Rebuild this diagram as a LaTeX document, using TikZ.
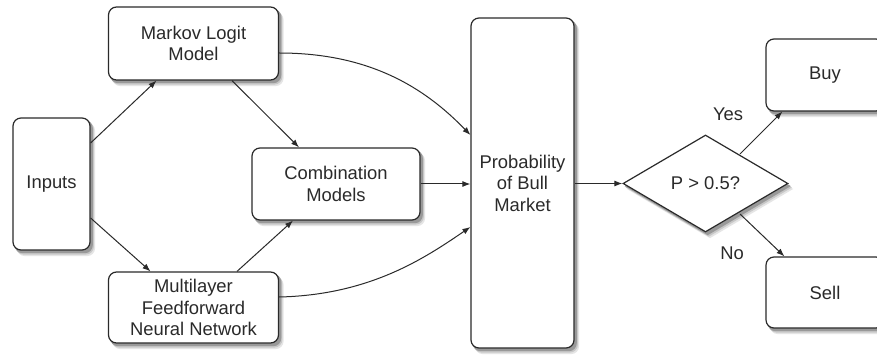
\documentclass[tikz,border=0pt]{standalone}
\usepackage{fontspec}
\setmainfont{Liberation Sans}
\usetikzlibrary{shapes.geometric,arrows.meta,calc}
\definecolor{ink}{HTML}{2A2A2A}
\pgfdeclarelayer{back}
\pgfsetlayers{back,main}
\begin{document}
\begin{tikzpicture}[x=1pt,y=-1pt,
  every node/.style={font=\fontsize{18.4}{21.5}\selectfont, text=ink, align=center},
  box/.style={draw=ink, line width=1.2pt, rounded corners=8pt, fill=white, inner sep=0pt},
  dec/.style={diamond, draw=ink, line width=1.2pt, fill=white, inner sep=0pt, shape aspect=1.7},
  conn/.style={draw=ink, line width=1pt, -{Latex[length=8pt,width=6pt]}},
  lbl/.style={inner sep=0pt}]
\useasboundingbox (0,0) rectangle (877,355);
\clip (0,0) rectangle (877,355);

\node[box, minimum width=77, minimum height=132] (in) at (51.5,184) {Inputs};
\node[box, minimum width=170, minimum height=73] (mk) at (193.5,43.5) {Markov Logit\\Model};
\node[box, minimum width=170, minimum height=71] (ml) at (193.5,307.5) {Multilayer\\Feedforward\\Neural Network};
\node[box, minimum width=168, minimum height=72] (cb) at (336,184) {Combination\\Models};
\node[box, minimum width=103, minimum height=330] (pb) at (522.5,183) {Probability\\of Bull\\Market};
\node[dec, minimum width=165, minimum height=97] (dm) at (705.5,183.5) {P > 0.5?};
\node[box, minimum width=118, minimum height=72] (buy) at (825,75) {Buy};
\node[box, minimum width=118, minimum height=71] (sell) at (825,292.5) {Sell};

\node[lbl] (yes) at (728,114) {Yes};
\node[lbl] (no) at (732,253) {No};

\begin{pgfonlayer}{back}
  \fill[white] (0,0) rectangle (877,355);
  \foreach \dx/\dy/\shade in {4.5/5.5/10, 3.3/4/22, 2.2/2.6/40}{
    \foreach \n in {in,mk,ml,cb,pb,buy,sell}{
      \fill[black!\shade, rounded corners=8pt]
        ($(\n.north west)+(\dx,\dy)$) rectangle ($(\n.south east)+(\dx,\dy)$);
    }
    \fill[black!\shade] ($(dm.north)+(\dx,\dy)$) -- ($(dm.east)+(\dx,\dy)$)
      -- ($(dm.south)+(\dx,\dy)$) -- ($(dm.west)+(\dx,\dy)$) -- cycle;
  }
\end{pgfonlayer}

\draw[conn] ($(in.east)+(0,-41)$) -- ($(mk.south)+(-37,0)$);
\draw[conn] ($(in.east)+(0,34)$) -- ($(ml.north)+(-43,0)$);
\draw[conn] ($(mk.south)+(38.5,0)$) -- ($(cb.north)+(-37,0)$);
\draw[conn] ($(ml.north)+(43.5,0)$) -- ($(cb.south)+(-43,0)$);
\draw[conn] ($(mk.east)+(0,9.5)$) .. controls (370,53) and (425,88) .. ($(pb.west)+(0,-48)$);
\draw[conn] ($(ml.east)+(0,-10.5)$) .. controls (370,295) and (425,258) .. ($(pb.west)+(0,44)$);
\draw[conn] (cb.east) -- (cb.east -| pb.west);
\draw[conn] (pb.east |- dm.west) -- (dm.west);
\draw[conn] ($(dm.center)+(34.5,-29.5)$) -- ($(buy.south west)+(17,0)$);
\draw[conn] ($(dm.center)+(34.5,30.5)$) -- ($(sell.north west)+(19,0)$);
\end{tikzpicture}
\end{document}
